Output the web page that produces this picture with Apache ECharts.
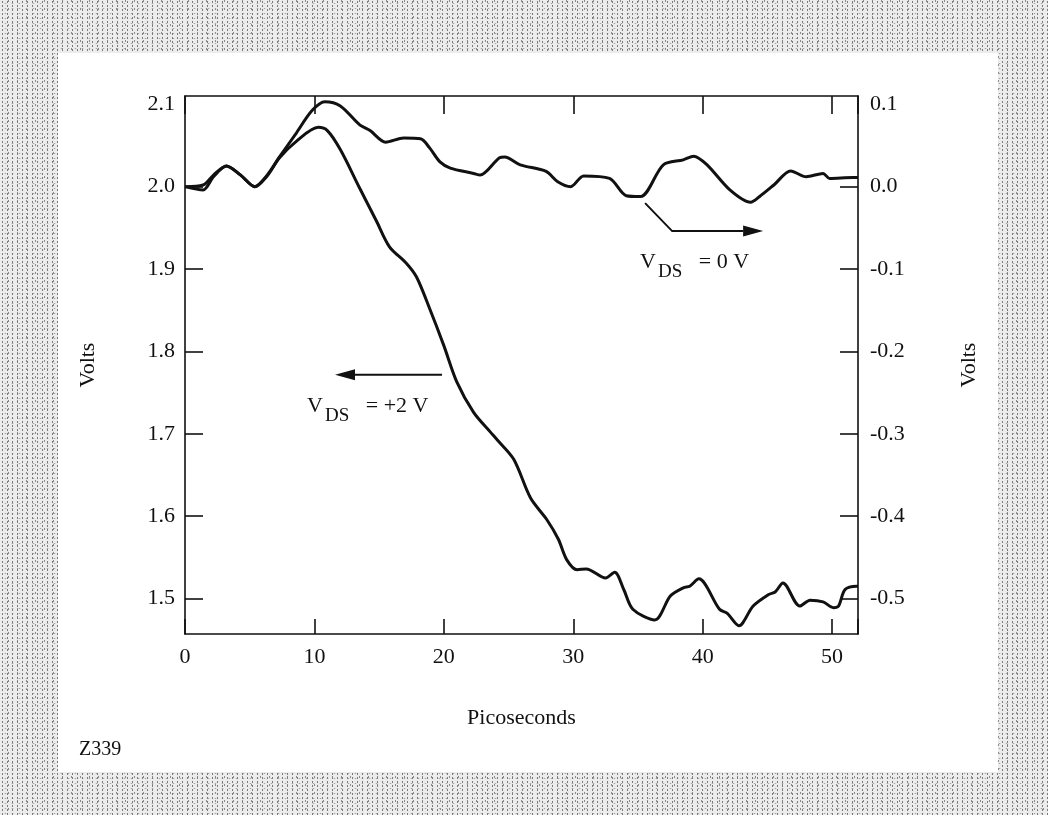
<!DOCTYPE html>
<html>
<head>
<meta charset="utf-8">
<script src="https://cdn.jsdelivr.net/npm/echarts@6/dist/echarts.min.js"></script>
<style>
  html, body { margin:0; padding:0; width:1048px; height:815px; overflow:hidden; }
  body {
    background-color:#ececec;
    background-image:
      radial-gradient(#7a7a7a 0.7px, transparent 1.1px),
      radial-gradient(#a5a5a5 0.7px, transparent 1.1px),
      radial-gradient(#8a8a8a 0.6px, transparent 1px);
    background-size: 5px 4px, 7px 5px, 9px 8px;
    background-position: 0 0, 2px 1px, 4px 5px;
  }
  #paper { position:absolute; left:58px; top:53px; width:940px; height:719px; background:#fff; }
  #chart { position:absolute; left:0; top:0; width:1048px; height:815px; }
</style>
</head>
<body>
<div id="paper"></div>
<div id="chart"></div>
<script>
// ---- data ----
const xTicksLabels = [0, 10, 20, 30, 40, 50];
const leftTicks = [1.5, 1.6, 1.7, 1.8, 1.9, 2.0];
const leftLabels = [1.5, 1.6, 1.7, 1.8, 1.9, 2.0, 2.1];
const rightTicks = [-0.5, -0.4, -0.3, -0.2, -0.1, 0.0];
const rightLabels = [-0.5, -0.4, -0.3, -0.2, -0.1, 0.0, 0.1];

// V_DS = +2 V  (left axis, Volts)
const plus2X = [0, 1.4, 2.2, 3.2, 4.3, 5.4, 6.3, 7.3, 8.6, 10.3, 11.0, 12.0, 13.5, 14.8, 15.8, 17.1, 17.9, 18.9, 20.0, 21.0, 22.3, 23.6, 24.1, 25.4, 26.7, 27.95, 28.85, 29.5, 30.3, 31.0, 32.5, 33.2, 33.9, 34.6, 36.3, 37.5, 38.5, 39.0, 39.7, 41.3, 41.9, 42.8, 43.9, 45.1, 45.6, 46.2, 47.5, 48.3, 49.3, 50.1, 50.5, 51.0, 51.9, 52];
const plus2Y = [2.000, 1.996, 2.012, 2.025, 2.014, 2.000, 2.012, 2.035, 2.055, 2.072, 2.068, 2.045, 1.998, 1.958, 1.927, 1.907, 1.890, 1.852, 1.807, 1.763, 1.726, 1.702, 1.693, 1.669, 1.622, 1.596, 1.572, 1.547, 1.535, 1.536, 1.525, 1.532, 1.511, 1.487, 1.474, 1.503, 1.513, 1.515, 1.524, 1.487, 1.482, 1.467, 1.491, 1.505, 1.508, 1.519, 1.491, 1.498, 1.496, 1.489, 1.491, 1.511, 1.515, 1.515];

// V_DS = 0 V  (right axis, Volts)
const zeroX = [0, 1.4, 2.2, 3.2, 4.3, 5.4, 6.3, 7.3, 8.6, 9.8, 10.8, 12.0, 13.5, 14.3, 15.5, 16.9, 18.2, 18.9, 19.7, 20.5, 22.3, 22.8, 24.3, 24.7, 25.9, 27.9, 28.8, 29.8, 30.8, 32.8, 34.1, 35.2, 36.96, 38.5, 39.3, 40.3, 42.1, 43.7, 44.4, 45.5, 46.8, 48.0, 49.3, 49.8, 51.6, 52];
const zeroY = [0.000, 0.002, 0.014, 0.025, 0.014, 0.000, 0.013, 0.036, 0.065, 0.092, 0.103, 0.098, 0.075, 0.068, 0.054, 0.059, 0.058, 0.047, 0.030, 0.0225, 0.016, 0.014, 0.035, 0.036, 0.0265, 0.0185, 0.006, 0.000, 0.013, 0.010, -0.011, -0.012, 0.0265, 0.0325, 0.037, 0.027, -0.004, -0.019, -0.012, 0.002, 0.019, 0.012, 0.016, 0.010, 0.011, 0.011];

// annotation anchors in data coordinates
const arrowZero = [[35.55, -0.020], [37.64, -0.054], [44.67, -0.054]];   // right axis
const labelZeroAt = [35.16, -0.092];
const arrowPlus2 = [[19.86, 1.7716], [11.59, 1.7716]];                    // left axis
const labelPlus2At = [9.43, 1.734];

const FONT = '"Liberation Serif", "Times New Roman", serif';
const INK = '#111';

const chart = echarts.init(document.getElementById('chart'), null, {renderer: 'canvas'});

const zip = (xs, ys) => xs.map((x, i) => [x, ys[i]]);

const axisLineStyle = { color: INK, width: 1.6 };

chart.setOption({
  backgroundColor: 'transparent',
  animation: false,
  grid: { left: 185, top: 96, right: 190, bottom: 181, containLabel: false },
  xAxis: [{
    type: 'value', min: 0, max: 52, interval: 10, position: 'bottom',
    axisLine: { show: true, onZero: false, lineStyle: axisLineStyle },
    axisTick: { show: true, inside: true, length: 15, lineStyle: { color: INK, width: 1.6 } },
    axisLabel: { color: INK, fontFamily: FONT, fontSize: 22, margin: 12,
                 customValues: xTicksLabels, formatter: v => String(v) },
    splitLine: { show: false },
    name: 'Picoseconds', nameLocation: 'middle', nameGap: 73,
    nameTextStyle: { color: INK, fontFamily: FONT, fontSize: 22 }
  }, {
    type: 'value', min: 0, max: 52, interval: 10, position: 'top',
    axisLine: { show: true, onZero: false, lineStyle: axisLineStyle },
    axisTick: { show: true, inside: true, length: 18, lineStyle: { color: INK, width: 1.6 } },
    axisLabel: { show: false },
    splitLine: { show: false }
  }],
  yAxis: [{
    type: 'value', min: 1.457, max: 2.11, position: 'left',
    axisLine: { show: true, onZero: false, lineStyle: axisLineStyle },
    axisTick: { show: true, inside: true, length: 18, customValues: leftTicks, lineStyle: { color: INK, width: 1.6 } },
    axisLabel: { color: INK, fontFamily: FONT, fontSize: 22, margin: 10,
                 customValues: leftLabels, formatter: v => v.toFixed(1) },
    splitLine: { show: false },
    name: 'Volts', nameLocation: 'middle', nameGap: 86, nameRotate: 90,
    nameTextStyle: { color: INK, fontFamily: FONT, fontSize: 22 }
  }, {
    type: 'value', min: -0.543, max: 0.11, position: 'right', alignTicks: false,
    axisLine: { show: true, onZero: false, lineStyle: axisLineStyle },
    axisTick: { show: true, inside: true, length: 18, customValues: rightTicks, lineStyle: { color: INK, width: 1.6 } },
    axisLabel: { color: INK, fontFamily: FONT, fontSize: 22, margin: 12,
                 customValues: rightLabels, formatter: v => v.toFixed(1) },
    splitLine: { show: false },
    name: 'Volts', nameLocation: 'middle', nameGap: 100, nameRotate: 90,
    nameTextStyle: { color: INK, fontFamily: FONT, fontSize: 22 }
  }],
  series: [{
    name: 'V_DS = +2 V', type: 'line', xAxisIndex: 0, yAxisIndex: 0,
    data: zip(plus2X, plus2Y), smooth: 0.3, symbol: 'none',
    lineStyle: { color: INK, width: 3 }
  }, {
    name: 'V_DS = 0 V', type: 'line', xAxisIndex: 0, yAxisIndex: 1,
    data: zip(zeroX, zeroY), smooth: 0.3, symbol: 'none',
    lineStyle: { color: INK, width: 3 }
  }]
});

// ---- annotations placed from data coordinates ----
const measure = (() => {
  const ctx = document.createElement('canvas').getContext('2d');
  return (text, size) => { ctx.font = size + 'px ' + FONT; return ctx.measureText(text).width; };
})();

function toPx(pt, yIdx) {
  return chart.convertToPixel({ xAxisIndex: 0, yAxisIndex: yIdx }, pt);
}

function arrow(points, yIdx) {
  const px = points.map(p => toPx(p, yIdx));
  const n = px.length;
  const tip = px[n - 1], prev = px[n - 2];
  const ang = Math.atan2(tip[1] - prev[1], tip[0] - prev[0]);
  const L = 20, W = 5.5;
  const base = [tip[0] - L * Math.cos(ang), tip[1] - L * Math.sin(ang)];
  const nx = -Math.sin(ang), ny = Math.cos(ang);
  const linePts = px.slice(0, n - 1).concat([base]);
  return [
    { type: 'polyline', shape: { points: linePts }, style: { stroke: INK, lineWidth: 2, fill: null }, z: 10 },
    { type: 'polygon', shape: { points: [tip, [base[0] + nx * W, base[1] + ny * W], [base[0] - nx * W, base[1] - ny * W]] },
      style: { fill: INK }, z: 10 }
  ];
}

function subLabel(at, yIdx, main, sub, rest) {
  const p = toPx(at, yIdx);
  const w1 = measure(main, 22), w2 = measure(sub, 19);
  const base = { fill: INK, align: 'left', verticalAlign: 'middle' };
  return [
    { type: 'text', x: p[0], y: p[1], z: 10, style: Object.assign({ text: main, font: '22px ' + FONT }, base) },
    { type: 'text', x: p[0] + w1 + 2, y: p[1] + 10, z: 10, style: Object.assign({ text: sub, font: '19px ' + FONT }, base) },
    { type: 'text', x: p[0] + w1 + w2 + 2, y: p[1], z: 10, style: Object.assign({ text: rest, font: '22px ' + FONT }, base) }
  ];
}

const elements = []
  .concat(arrow(arrowZero, 1))
  .concat(subLabel(labelZeroAt, 1, 'V', 'DS', '   = 0 V'))
  .concat(arrow(arrowPlus2, 0))
  .concat(subLabel(labelPlus2At, 0, 'V', 'DS', '   = +2 V'))
  .concat([{ type: 'text', left: 79, top: 740, z: 10,
             style: { text: 'Z339', font: '20px ' + FONT, fill: INK } }]);

chart.setOption({ graphic: { elements: elements } });
</script>
</body>
</html>
